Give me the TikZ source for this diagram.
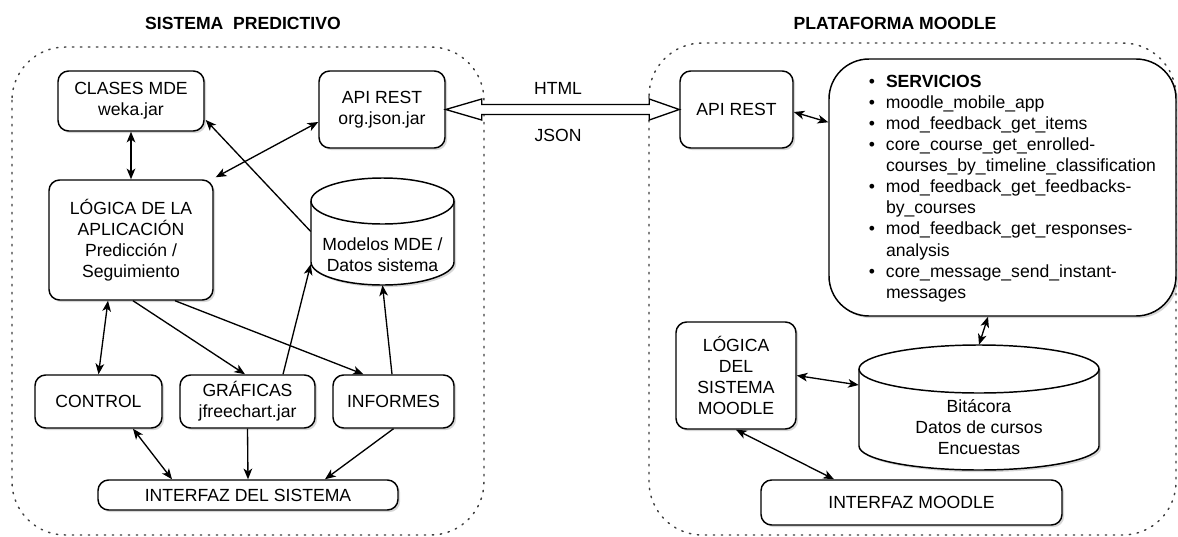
\documentclass[tikz,border=0pt]{standalone}
\usepackage{fontspec}
\setmainfont{Liberation Sans}
\usetikzlibrary{arrows.meta,calc,shadows}
\newcommand\srvb{\makebox[12.8pt][l]{\textbullet}}
\newcommand\srvi{\hspace*{12.8pt}}
\tikzset{
  shad/.style={drop shadow={shadow xshift=1.6pt, shadow yshift=-1.6pt, fill=black!45, opacity=0.35}},
  box/.style={draw, line width=1.1pt, rounded corners=8pt, fill=white, shad},
  bigbox/.style={draw, line width=1.1pt, rounded corners=30pt, fill=white, shad},
  cyl/.style={draw, line width=1.1pt, fill=white, shad},
  cont/.style={draw=black!75, line width=1.1pt, dash pattern=on 1.1pt off 4.9pt, line cap=round, rounded corners=40pt},
  title/.style={font=\fontsize{13.2}{15.6}\selectfont\bfseries},
  conn/.style={line width=1pt},
  flex/.style={draw, fill=white, line width=1pt, line join=miter}
}
\begin{document}
\begin{tikzpicture}[x=0.75pt,y=-0.75pt,
  >={Stealth[length=8pt,width=6.5pt,inset=2.2pt]},
  every node/.style={font=\fontsize{13.2}{15.6}\selectfont, align=center, inner sep=2pt}
]
\useasboundingbox (0,0) rectangle (1178,536);

% containers
\draw[cont] (12,47) rectangle (484,535);
\draw[cont] (649,43) rectangle (1176,535);

% titles
\node[title] (t1) at (243,23) {SISTEMA~ PREDICTIVO};
\node[title] (t2) at (895,23) {PLATAFORMA MOODLE};

% cylinders (shapes)
\draw[cyl] (311,201) -- (311,262) arc[start angle=180,end angle=0,x radius=71.5,y radius=23] -- (454,201) arc[start angle=0,end angle=-180,x radius=71.5,y radius=23] -- cycle;
\draw[line width=1.1pt] (311,201) arc[start angle=180,end angle=0,x radius=71.5,y radius=23];
\draw[cyl] (859,369) -- (859,446) arc[start angle=180,end angle=0,x radius=120,y radius=24] -- (1099,369) arc[start angle=0,end angle=-180,x radius=120,y radius=24] -- cycle;
\draw[line width=1.1pt] (859,369) arc[start angle=180,end angle=0,x radius=120,y radius=24];

% left nodes
\node[box, minimum width=109.5pt, minimum height=45pt] (cls) at (131,101) {CLASES MDE\\weka.jar};
\node[box, minimum width=94.5pt, minimum height=57.75pt] (apil) at (382,109.5) {API REST\\org.json.jar};
\node[box, minimum width=123pt, minimum height=90pt] (log) at (131,240) {LÓGICA DE LA\\APLICACIÓN\\Predicción /\\Seguimiento};
\node[minimum width=107.25pt, minimum height=80.25pt] (mod) at (382.5,231.5) {};
\node (modtext) at (382.5,255) {Modelos MDE /\\Datos sistema};
\node[box, minimum width=95.25pt, minimum height=39.75pt] (ctl) at (98.5,401.5) {CONTROL};
\node[box, minimum width=101.25pt, minimum height=39.75pt] (gra) at (247.5,401.5) {GRÁFICAS\\jfreechart.jar};
\node[box, minimum width=90.75pt, minimum height=39.75pt] (inf) at (393.5,401.5) {INFORMES};
\node[box, minimum width=225pt, minimum height=22.5pt] (ifs) at (248,495) {INTERFAZ DEL SISTEMA};

% right nodes
\node[box, minimum width=84.75pt, minimum height=57.75pt] (apir) at (736.5,109.5) {API REST};
\node[bigbox, minimum width=260.25pt, minimum height=192.75pt] (srv) at (1002.5,187.5) {};
\node[anchor=west, align=left, font=\fontsize{13.2}{15.8}\selectfont] (srvlist) at (866,188.5) {%
\srvb\textbf{SERVICIOS}\\
\srvb moodle\_mobile\_app\\
\srvb mod\_feedback\_get\_items\\
\srvb core\_course\_get\_enrolled-\\
\srvi courses\_by\_timeline\_classification\\
\srvb mod\_feedback\_get\_feedbacks-\\
\srvi by\_courses\\
\srvb mod\_feedback\_get\_responses-\\
\srvi analysis\\
\srvb core\_message\_send\_instant-\\
\srvi messages};
\node[box, minimum width=90pt, minimum height=80.25pt] (lsm) at (736,375.5) {LÓGICA\\DEL\\SISTEMA\\MOODLE};
\node[minimum width=180pt, minimum height=93.75pt] (bit) at (979,407.5) {};
\node (bittext) at (979,427) {Bitácora\\Datos de cursos\\Encuestas};
\node[box, minimum width=225.75pt, minimum height=33.75pt] (ifm) at (911.5,502.5) {INTERFAZ MOODLE};

% flex arrow HTML/JSON
\draw[flex] (apil.east) -- ($(apil.east)+(36,-10.5)$) -- ($(apil.east)+(36,-5)$)
  -- ($(apir.west)+(-30,-5)$) -- ($(apir.west)+(-30,-10.5)$) -- (apir.west)
  -- ($(apir.west)+(-30,10.5)$) -- ($(apir.west)+(-30,5)$)
  -- ($(apil.east)+(36,5)$) -- ($(apil.east)+(36,10.5)$) -- cycle;
\node (html) at (558,88) {HTML};
\node (json) at (558,135) {JSON};

% left connectors
\draw[conn,<->] (cls.south) -- (log.north);
\draw[conn,<->] ($(log.north east)+(2,-2)$) -- ($(apil.west)+(0,12.5)$);
\draw[conn,->] (mod.west) -- ($(cls.east)+(1,19)$);
\draw[conn,<->] ($(log.south)+(-23,0)$) -- (ctl.north);
\draw[conn,->] ($(log.south)+(2,0)$) -- ($(gra.north)+(-2.5,0)$);
\draw[conn,->] ($(log.south)+(44,0)$) -- ($(inf.north)+(-30,0)$);
\draw[conn,->] ($(gra.north)+(35.5,0)$) -- ($(mod.south west)+(0,-21)$);
\draw[conn,->] ($(inf.north)+(-1.5,0)$) -- (mod.south);
\draw[conn,<->] ($(ctl.south)+(34.5,0)$) -- ($(ifs.north)+(-76,0)$);
\draw[conn,->] (gra.south) -- (ifs.north);
\draw[conn,->] (inf.south) -- ($(ifs.north)+(77,0)$);

% right connectors
\draw[conn,<->] ($(apir.east)+(0,2.5)$) -- ($(srv.north west)+(0,64)$);
\draw[conn,<->] ($(srv.south)+(-14.5,0)$) -- (bit.north);
\draw[conn,<->] (lsm.east) -- ($(bit.west)+(0,-22.5)$);
\draw[conn,<->] (lsm.south) -- ($(ifm.north)+(-77.5,0)$);
\end{tikzpicture}
\end{document}
